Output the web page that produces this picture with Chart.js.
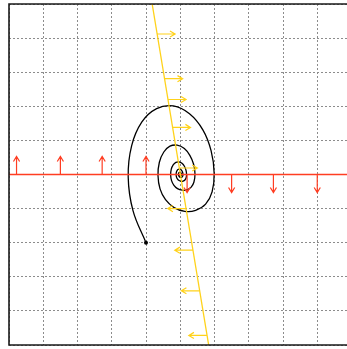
<!DOCTYPE html>
<html>
<head>
<meta charset="utf-8">
<script src="https://cdn.jsdelivr.net/npm/chart.js@4/dist/chart.umd.min.js"></script>
<style>
  html, body { margin: 0; padding: 0; overflow: hidden; background: #fff; }
  #c { display: block; width: 361px; height: 349px; }
</style>
</head>
<body>
<canvas id="c" width="361" height="349"></canvas>
<script>
// Trajectory starting at (-1, -2), spiralling into the origin
const spiralX = [-1.00, -1.38, -1.52, -1.42, -1.12, -0.69, -0.20, 0.27, 0.66, 0.90, 0.99, 0.93, 0.74, 0.45, 0.13, -0.18,
  -0.43, -0.59, -0.65, -0.61, -0.48, -0.30, -0.09, 0.12, 0.28, 0.39, 0.43, 0.40, 0.32, 0.19, 0.06, -0.08,
  -0.184, -0.254, -0.280, -0.262, -0.207, -0.127, -0.037, 0.050, 0.121, 0.167, 0.184, 0.172, 0.136, 0.083, 0.024, -0.033,
  -0.079, -0.109, -0.120, -0.113, -0.089, -0.055, -0.016, 0.022, 0.052, 0.072, 0.079, 0.074, 0.058, 0.036, 0.010, -0.014,
  -0.034, -0.047, -0.052, -0.048, -0.038, -0.024, -0.007, 0.009, 0.022, 0.031, 0.034, 0.032, 0.025, 0.015, 0.004, -0.006, -0.015];
const spiralY = [-2.00, -1.06, -0.07, 0.84, 1.54, 1.93, 2.01, 1.78, 1.31, 0.70, 0.04, -0.51, -0.87, -1.05, -1.08, -0.97,
  -0.74, -0.42, -0.03, 0.36, 0.66, 0.83, 0.86, 0.76, 0.56, 0.30, 0.02, -0.22, -0.37, -0.45, -0.46, -0.415,
  -0.317, -0.180, -0.012, 0.155, 0.283, 0.357, 0.370, 0.328, 0.242, 0.129, 0.008, -0.094, -0.160, -0.194, -0.199, -0.178,
  -0.136, -0.077, -0.005, 0.067, 0.122, 0.153, 0.159, 0.141, 0.104, 0.055, 0.003, -0.040, -0.069, -0.084, -0.085, -0.077,
  -0.058, -0.033, -0.002, 0.029, 0.052, 0.066, 0.068, 0.061, 0.045, 0.024, 0.002, -0.017, -0.029, -0.036, -0.037, -0.033, -0.025];

// Nullclines
const redLineX = [-5, 5];
const redLineY = [0, 0];
const yellowLineX = [-0.82, 0.83];
const yellowLineY = [5, -5];

// Direction arrows sitting on the nullclines (+1 = up/right, -1 = down/left)
const redArrowX = [-4.78, -3.50, -2.28, -1.00, 0.20, 1.50, 2.72, 4.00];
const redArrowDir = [1, 1, 1, 1, -1, -1, -1, -1];
const yellowArrowX = [-0.68, -0.46, -0.36, -0.23, -0.03, 0.165, 0.37, 0.56, 0.78];
const yellowArrowY = [4.12, 2.81, 2.20, 1.38, 0.19, -1.00, -2.22, -3.41, -4.72];
const yellowArrowDir = [1, 1, 1, 1, 1, -1, -1, -1, -1];

const ARROW_LEN = 0.53, HEAD_LEN = 0.15, HEAD_HALF = 0.09;
const GAP = {x: NaN, y: null};

function toPoints(xs, ys) { return xs.map((x, i) => ({x, y: ys[i]})); }

function verticalArrows(xs, dirs) {
  const pts = [];
  xs.forEach((x, i) => {
    const tip = dirs[i] * ARROW_LEN;
    const back = tip - dirs[i] * HEAD_LEN;
    pts.push({x, y: 0}, {x, y: tip}, GAP,
             {x: x - HEAD_HALF, y: back}, {x, y: tip}, {x: x + HEAD_HALF, y: back}, GAP);
  });
  return pts;
}

function horizontalArrows(xs, ys, dirs) {
  const pts = [];
  xs.forEach((x, i) => {
    const y = ys[i];
    const tip = x + dirs[i] * ARROW_LEN;
    const back = tip - dirs[i] * HEAD_LEN;
    pts.push({x, y}, {x: tip, y}, GAP,
             {x: back, y: y - HEAD_HALF}, {x: tip, y}, {x: back, y: y + HEAD_HALF}, GAP);
  });
  return pts;
}

const RED = '#ff3d22';
const YELLOW = '#ffd21a';

// Box edges on the left, top and bottom of the plot area
const frame = {
  id: 'frame',
  afterDraw(chart) {
    const {ctx, chartArea: a} = chart;
    ctx.save();
    ctx.strokeStyle = '#1a1a1a';
    ctx.lineWidth = 1.6;
    ctx.beginPath();
    ctx.moveTo(a.right, a.top);
    ctx.lineTo(a.left, a.top);
    ctx.lineTo(a.left, a.bottom);
    ctx.lineTo(a.right, a.bottom);
    ctx.stroke();
    ctx.restore();
  }
};

const axis = (extra) => Object.assign({
  type: 'linear', min: -5, max: 5,
  ticks: {display: false, stepSize: 1},
  grid: {color: '#8c8c8c', lineWidth: 1, drawTicks: false},
  border: {display: false, dash: [2, 2]}
}, extra);

new Chart(document.getElementById('c'), {
  type: 'scatter',
  data: {
    datasets: [
      {data: toPoints(yellowLineX, yellowLineY), showLine: true, borderColor: YELLOW, borderWidth: 1.3, pointRadius: 0, order: 1},
      {data: horizontalArrows(yellowArrowX, yellowArrowY, yellowArrowDir), showLine: true, spanGaps: false, borderColor: YELLOW, borderWidth: 1.2, pointRadius: 0, order: 1},
      {data: toPoints(redLineX, redLineY), showLine: true, borderColor: RED, borderWidth: 1.5, pointRadius: 0, order: 2},
      {data: verticalArrows(redArrowX, redArrowDir), showLine: true, spanGaps: false, borderColor: RED, borderWidth: 1.2, pointRadius: 0, order: 2},
      {data: toPoints(spiralX, spiralY), showLine: true, tension: 0.4, borderColor: '#000', borderWidth: 1.3,
        pointRadius: (c) => c.dataIndex === 0 ? 2 : 0, pointBackgroundColor: '#000', pointBorderWidth: 0, order: 3}
    ]
  },
  options: {
    responsive: false,
    maintainAspectRatio: false,
    animation: false,
    devicePixelRatio: 1,
    layout: {padding: {left: 9, right: 9.5, top: 3.6, bottom: 1.3}},
    plugins: {legend: {display: false}, tooltip: {enabled: false}},
    scales: {x: axis({}), y: axis({})}
  },
  plugins: [frame]
});
</script>
</body>
</html>
